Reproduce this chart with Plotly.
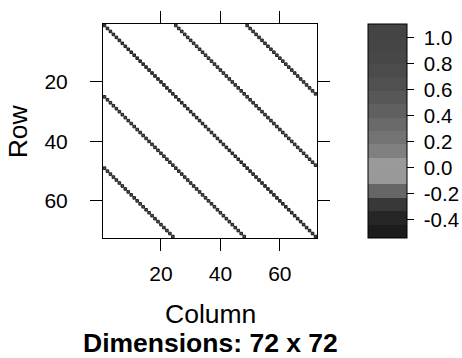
import numpy as np
import plotly.graph_objects as go

# ---- data ----
n_rows = 72
n_cols = 72
diag_offsets = [0, 24, -24, 48, -48]
diag_values = {
    0: [1.0] * 72,
    24: [0.5] * 48,
    -24: [0.5] * 48,
    48: [0.5] * 24,
    -48: [0.5] * 24,
}
tick_vals = [20, 40, 60]
cbar_ticks = [-0.4, -0.2, 0.0, 0.2, 0.4, 0.6, 0.8, 1.0]
cbar_min, cbar_max = -0.543, 1.105
band_colors = ["#1c1c1c", "#262626", "#383838", "#666666", "#999999", "#9a9a9a",
               "#808080", "#737373", "#6a6a6a", "#606060", "#575757", "#505050",
               "#4b4b4b", "#474747", "#454545", "#444444"]

# build sparse entries
rows, cols, vals = [], [], []
for off in diag_offsets:
    v = diag_values[off]
    for k, val in enumerate(v):
        if off >= 0:
            r, c = k + 1, k + 1 + off
        else:
            r, c = k + 1 - off, k + 1
        rows.append(r); cols.append(c); vals.append(val)

nb = len(band_colors)
colorscale = []
for i, col in enumerate(band_colors):
    colorscale.append([i / nb, col])
    colorscale.append([(i + 1) / nb, col])

FONT = "Liberation Sans, Arial, sans-serif"

fig = go.Figure()
fig.add_trace(go.Scatter(
    x=cols, y=rows, mode="markers",
    marker=dict(symbol="square", size=2.6, color=vals, colorscale=colorscale,
                cmin=cbar_min, cmax=cbar_max,
                line=dict(color="#111111", width=0.9),
                showscale=True,
                colorbar=dict(x=(367.3 - 102.7) / 214, xanchor="left", xpad=0,
                              y=0.5, yanchor="middle", ypad=0, len=1, lenmode="fraction",
                              thickness=38.7, thicknessmode="pixels",
                              outlinewidth=1, outlinecolor="black",
                              ticks="outside", ticklen=7, tickwidth=1, tickcolor="black",
                              tickvals=cbar_ticks,
                              ticktext=["\u00a0" + f"{t:.1f}" for t in cbar_ticks],
                              tickfont=dict(family=FONT, size=20.5, color="black"))),
    hoverinfo="skip", showlegend=False))

axis_common = dict(showgrid=False, zeroline=False, showline=True, linecolor="black",
                   linewidth=1, mirror="ticks", ticks="outside", ticklen=12,
                   tickwidth=1, tickcolor="black", tickvals=tick_vals,
                   tickfont=dict(family=FONT, size=21, color="black"))

fig.update_layout(
    width=462, height=358,
    margin=dict(l=103, r=145, t=24, b=120, autoexpand=False),
    paper_bgcolor="white", plot_bgcolor="white",
    xaxis=dict(range=[0.5, n_cols + 0.5], ticklabelstandoff=5, **axis_common),
    yaxis=dict(range=[n_rows + 0.5, 0.5], ticklabelstandoff=18, **axis_common),
    annotations=[
        dict(text="Column", x=0.5, y=-(314 - 238) / 214, xref="paper", yref="paper",
             xanchor="center", yanchor="middle", showarrow=False,
             font=dict(family=FONT, size=26.5, color="black")),
        dict(text="<b>Dimensions: 72 x 72</b>", x=0.5, y=-(343 - 238) / 214,
             xref="paper", yref="paper", xanchor="center", yanchor="middle",
             showarrow=False, font=dict(family=FONT, size=26.5, color="black")),
        dict(text="Row", x=(18 - 102.7) / 214, y=0.5, xref="paper", yref="paper",
             xanchor="center", yanchor="middle", textangle=-90, showarrow=False,
             font=dict(family=FONT, size=26.5, color="black")),
    ],
)

fig.write_html("out.html")
